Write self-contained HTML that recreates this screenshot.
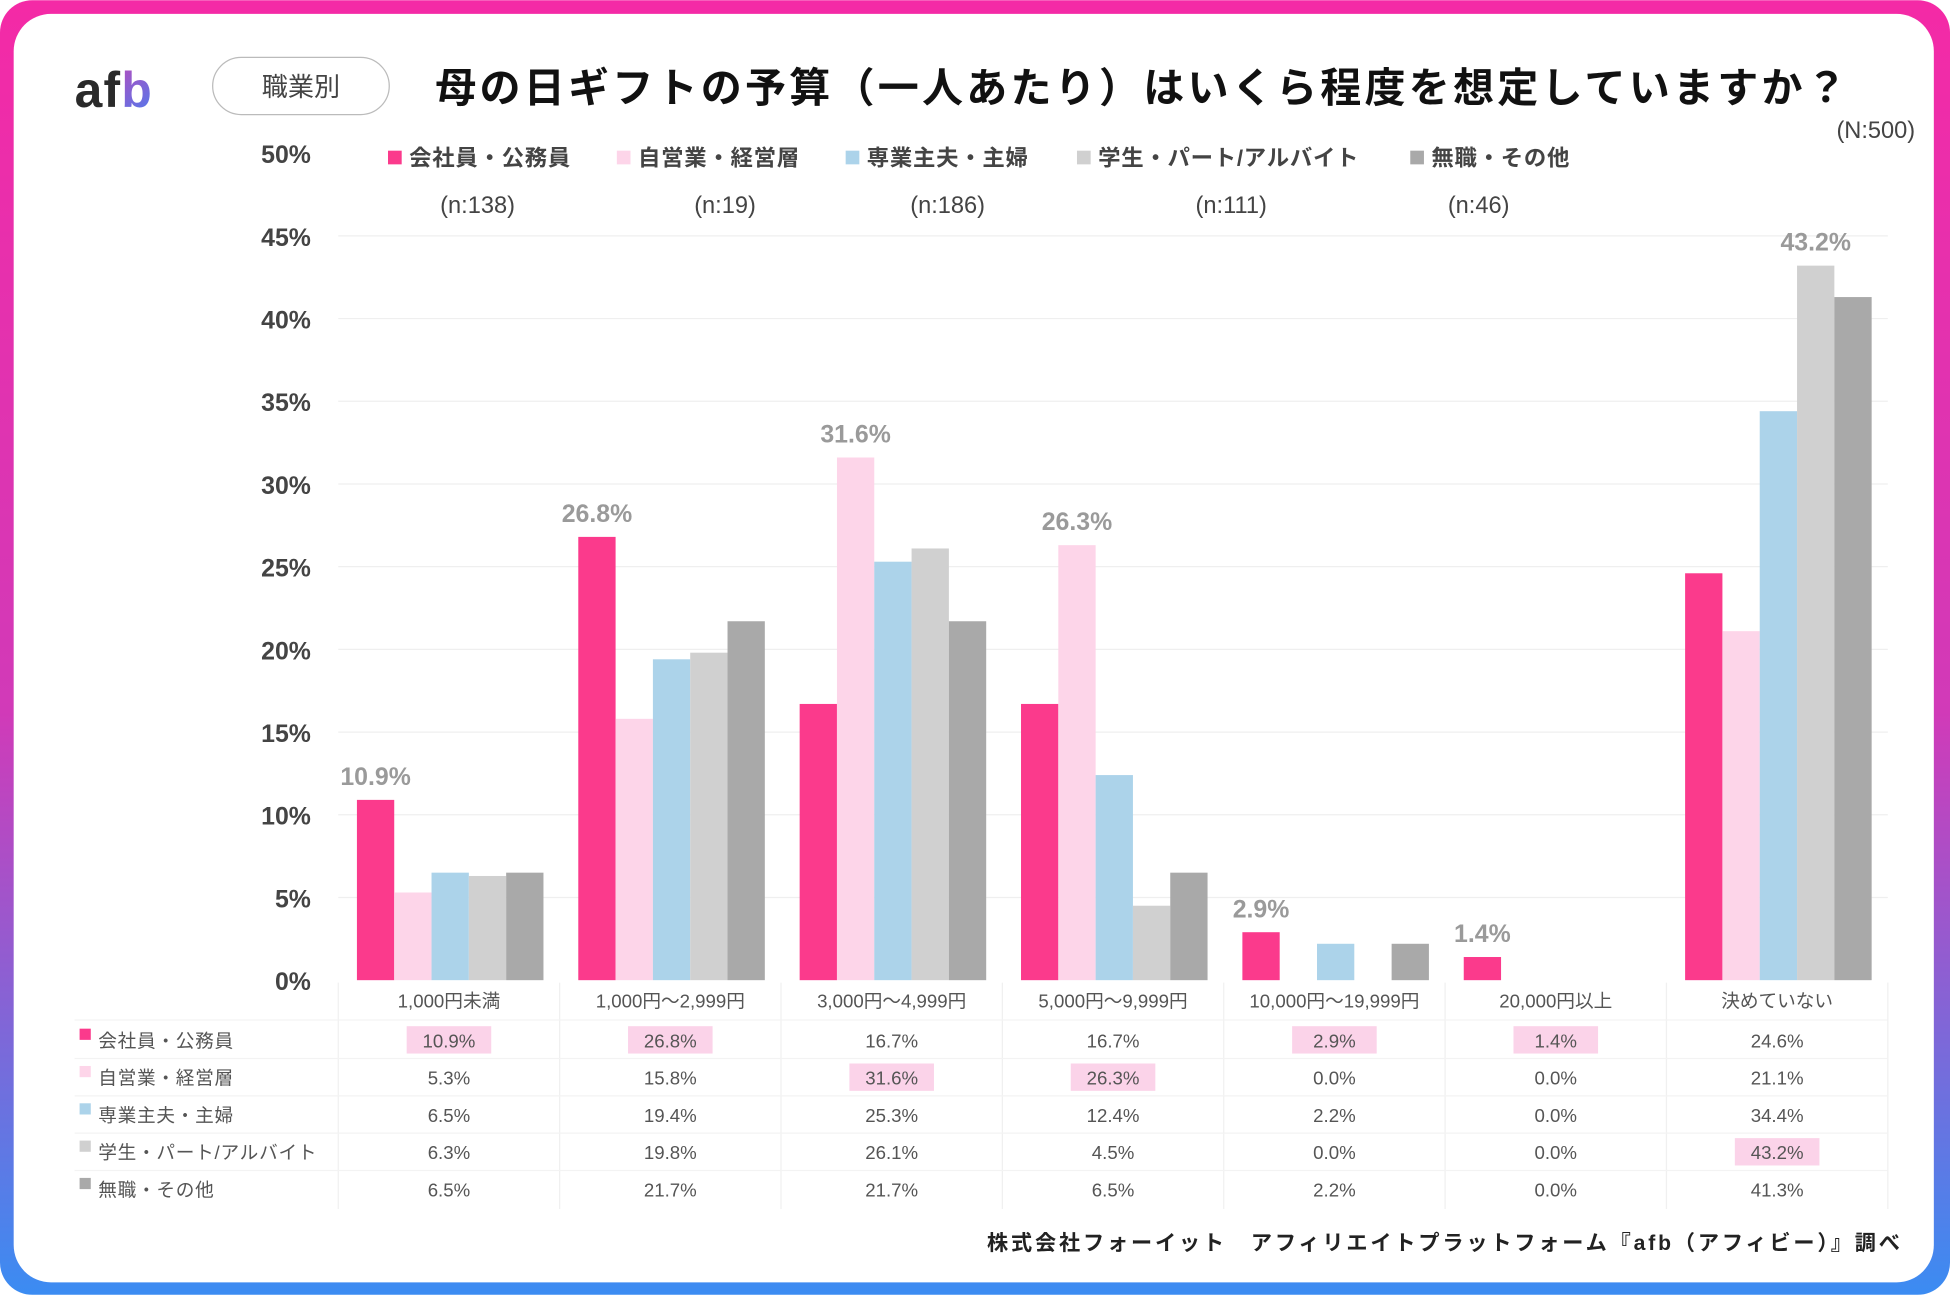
<!DOCTYPE html>
<html><head><meta charset="utf-8"><style>
html,body{margin:0;padding:0;width:1950px;height:1295px;overflow:hidden;background:#fff}
svg{display:block}
text{font-family:"Liberation Sans","Noto Sans CJK JP",sans-serif}
</style></head><body>
<svg id="chart" width="1950" height="1295" viewBox="0 0 1568 1041" xmlns="http://www.w3.org/2000/svg">
<defs>
<linearGradient id="frame" x1="0" y1="0" x2="0" y2="1">
<stop offset="0" stop-color="#f42aa6"/><stop offset="0.55" stop-color="#d13ab8"/><stop offset="1" stop-color="#3b8cf2"/>
</linearGradient>
<linearGradient id="logob" x1="0" y1="0" x2="1" y2="1"><stop offset="0" stop-color="#e23aa8"/><stop offset="1" stop-color="#4a7cf0"/></linearGradient>
</defs>
<rect x="0" y="0" width="1568" height="1041" rx="26" fill="url(#frame)"/>
<rect x="11" y="11" width="1544" height="1020" rx="30" fill="#fff"/>
<text x="60" y="86" font-size="40" font-weight="bold" fill="#2a2a2a" letter-spacing="1">af<tspan fill="url(#logob)">b</tspan></text>
<rect x="171" y="46" width="142" height="46" rx="23" fill="#fff" stroke="#bbb" stroke-width="1"/>
<text x="242" y="77" font-size="21" fill="#444" text-anchor="middle">職業別</text>
<text x="350" y="82" font-size="33" font-weight="bold" fill="#111" letter-spacing="2.6">母の日ギフトの予算（一人あたり）はいくら程度を想定していますか？</text>
<text x="1540" y="111" font-size="19" fill="#444" text-anchor="end">(N:500)</text>
<g id="grid"></g>
<g id="legend"></g>
<g id="bars"></g>
<g id="table"></g>
<text x="1530" y="1005" font-size="17" font-weight="bold" fill="#222" text-anchor="end" letter-spacing="2.3">株式会社フォーイット　アフィリエイトプラットフォーム『afb（アフィビー）』調べ</text>
</svg>
<script>
const categories=["1,000円未満","1,000円～2,999円","3,000円～4,999円","5,000円～9,999円","10,000円～19,999円","20,000円以上","決めていない"];
const seriesNames=["会社員・公務員","自営業・経営層","専業主夫・主婦","学生・パート/アルバイト","無職・その他"];
const seriesN=["(n:138)","(n:19)","(n:186)","(n:111)","(n:46)"];
const s1=[10.9,26.8,16.7,16.7,2.9,1.4,24.6];
const s2=[5.3,15.8,31.6,26.3,0.0,0.0,21.1];
const s3=[6.5,19.4,25.3,12.4,2.2,0.0,34.4];
const s4=[6.3,19.8,26.1,4.5,0.0,0.0,43.2];
const s5=[6.5,21.7,21.7,6.5,2.2,0.0,41.3];
const yTicks=[0,5,10,15,20,25,30,35,40,45,50];
const series=[s1,s2,s3,s4,s5];
const colors=["#fb3a8c","#fdd5e9","#acd3ea","#d0d0d0","#a9a9a9"];
const NS="http://www.w3.org/2000/svg";
const x0=272,gw=178,bw=30,bo=15;
function y(v){return 788-v*13.3;}
function gx(i){return x0+i*gw;}
function mk(parent,tag,attrs,txt){const e=document.createElementNS(NS,tag);for(const k in attrs)e.setAttribute(k,attrs[k]);if(txt!==undefined)e.textContent=txt;document.getElementById(parent).appendChild(e);return e;}
yTicks.forEach(t=>{
  if(t>0&&t<50){const l=mk('grid','line',{x1:x0,x2:1518,y1:y(t),y2:y(t),stroke:'#efefef','stroke-width':1});
  
  }
  const tx=mk('grid','text',{x:250,y:y(t)+8,'font-size':20,'font-weight':'bold',fill:'#444','text-anchor':'end'},t+'%');
  
  
});
const lx=[312,496,680,866,1134],nx=[384,583,762,990,1189];
seriesNames.forEach((n,i)=>{
  const r=mk('legend','rect',{x:lx[i],y:121,width:11,height:11,fill:colors[i]});
  
  
  const t=mk('legend','text',{x:lx[i]+17,y:133,'font-size':18,'font-weight':'bold',fill:'#444','letter-spacing':0.6},n);
  
  
  const c=mk('legend','text',{x:nx[i],y:171,'font-size':19,fill:'#444','text-anchor':'middle'},seriesN[i]);
  
  
});
categories.forEach((c,ci)=>{
  let mi=0;series.forEach((s,si)=>{if(s[ci]>series[mi][ci])mi=si;});
  series.forEach((s,si)=>{
    const v=s[ci];const bx=gx(ci)+bo+si*bw;
    if(v>0){const r=mk('bars','rect',{x:bx,y:y(v),width:bw,height:788-y(v),fill:colors[si]});
    
    }
  });
  const v=series[mi][ci];const cx=gx(ci)+bo+mi*bw+bw/2;
  const t=mk('bars','text',{x:cx,y:y(v)-12,'font-size':20,'font-weight':'bold',fill:'#9a9a9a','text-anchor':'middle'},v.toFixed(1)+'%');
  
  
});
for(let i=0;i<=categories.length;i++){
  const l=mk('table','line',{x1:gx(i),x2:gx(i),y1:790,y2:972,stroke:'#f0f0f0','stroke-width':1});
  
  
}
[820,851,881,911,941].forEach(yy=>{
  const l=mk('table','line',{x1:60,x2:1518,y1:yy,y2:yy,stroke:'#f3f3f3','stroke-width':1});
  
  
});
categories.forEach((c,ci)=>{
  const t=mk('table','text',{x:gx(ci)+gw/2,y:810,'font-size':15,fill:'#555','text-anchor':'middle'},c);
  
  
});
seriesNames.forEach((n,si)=>{
  const ry=836+si*30;
  const r=mk('table','rect',{x:64,y:ry-9,width:9,height:9,fill:colors[si]});
  
  
  const t=mk('table','text',{x:79,y:ry+6,'font-size':15,fill:'#555','letter-spacing':0.6},n);
  
  
});
categories.forEach((c,ci)=>{
  let mi=0;series.forEach((s,si)=>{if(s[ci]>series[mi][ci])mi=si;});
  series.forEach((s,si)=>{
    const ry=836+si*30,cx=gx(ci)+gw/2;
    if(si===mi){const h=mk('table','rect',{x:cx-34,y:ry-11,width:68,height:22,fill:'#fbd3e9'});
    
    }
    const t=mk('table','text',{x:cx,y:ry+6,'font-size':15,fill:'#555','text-anchor':'middle'},s[ci].toFixed(1)+'%');
    
    
  });
});
</script>
</body></html>
